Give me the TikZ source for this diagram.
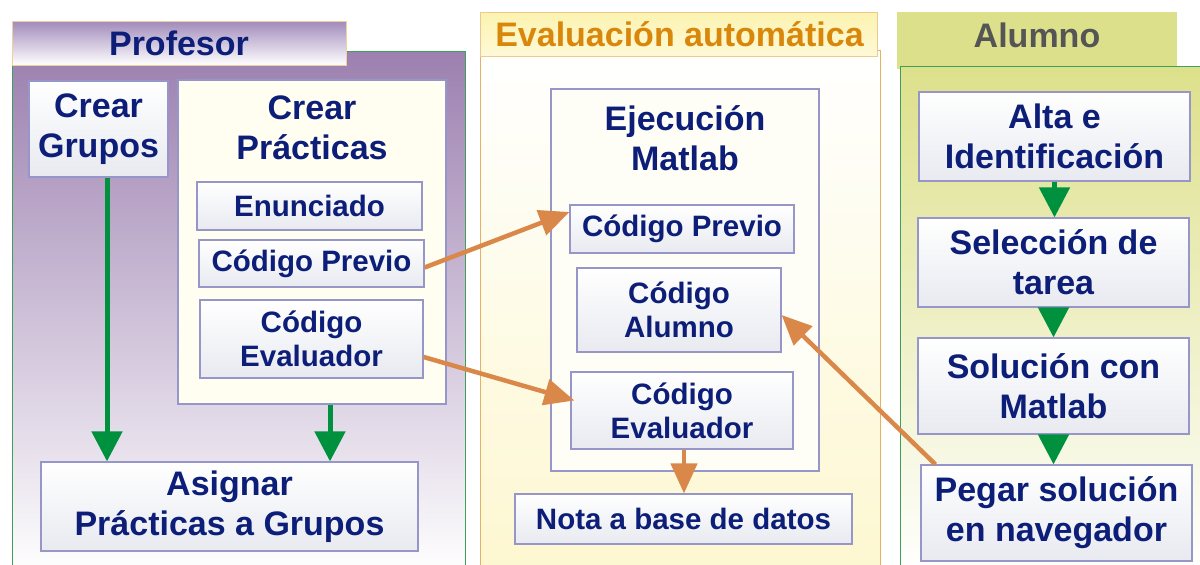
\documentclass[tikz,border=0pt]{standalone}
\usepackage{fontspec}
\setmainfont{Liberation Sans}
\usetikzlibrary{arrows.meta}
\definecolor{txt}{RGB}{12,30,120}
\definecolor{boxb}{RGB}{150,150,200}
\definecolor{boxg}{RGB}{232,234,240}
\definecolor{gr}{RGB}{0,145,63}
\definecolor{orng}{RGB}{217,136,74}
\definecolor{prof}{RGB}{156,128,176}
\definecolor{proft}{RGB}{160,138,186}
\definecolor{pborder}{RGB}{60,160,90}
\definecolor{evb}{RGB}{232,176,96}
\definecolor{evt}{RGB}{252,243,176}
\definecolor{evbot}{RGB}{253,247,208}
\definecolor{evtxt}{RGB}{217,135,10}
\definecolor{alu}{RGB}{221,224,138}
\definecolor{alutxt}{RGB}{85,85,85}
\definecolor{cream}{RGB}{255,254,240}
\tikzset{
  box/.style={draw=boxb, line width=1.2pt, top color=white, bottom color=boxg, inner sep=0pt, align=center, text=txt},
  cont/.style={draw=boxb, line width=1.2pt, fill=cream, inner sep=0pt},
  lbl/.style={align=center, text=txt, inner sep=0pt},
  big/.style={font=\bfseries\fontsize{34}{40}\selectfont},
  small/.style={font=\bfseries\fontsize{29.5}{34}\selectfont},
  ttl/.style={font=\bfseries\fontsize{34}{40}\selectfont, inner sep=0pt},
  garrow/.style={draw=gr, line width=5pt, -{Triangle[width=30pt,length=30pt]}},
  oarrow/.style={draw=orng, line width=4.5pt, -{Triangle[width=26pt,length=30pt]}}
}
\begin{document}
\begin{tikzpicture}[x=1pt,y=-1pt]
\useasboundingbox (0,0) rectangle (1200,565);
\fill[white] (0,0) rectangle (1200,565);
% ---------- Profesor panel
\path[top color=prof, bottom color=white, draw=pborder, line width=1pt] (12,51) rectangle (465,575);
\node[draw=evb!60, line width=1pt, top color=proft, bottom color=white, minimum width=334, minimum height=44, inner sep=0pt] (ptitle) at (179,43) {};
\node[ttl, text=txt] (ptext) at (179,43) {Profesor};
% ---------- Evaluacion panel
\path[top color=white, bottom color=evbot, draw=evb, line width=1pt] (480,50) rectangle (880,575);
\node[draw=evb!70, line width=1pt, top color=evt, bottom color=evt!50, minimum width=397, minimum height=44, inner sep=0pt] (etitle) at (678.5,34) {};
\node[ttl, text=evtxt] (etext) at (679.5,34) {Evaluación automática};
% ---------- Alumno panel
\node[fill=alu, minimum width=280, minimum height=57, inner sep=0pt] (atitle) at (1037,40.5) {};
\path[top color=alu, bottom color=white, draw=pborder, line width=1pt] (900,66) rectangle (1210,575);
\node[ttl, text=alutxt] (atext) at (1037,35) {Alumno};
% ---------- Profesor nodes
\node[box, big, minimum width=139, minimum height=96] (cg) at (98.5,129) {Crear\\Grupos};
\node[cont, minimum width=268, minimum height=324] (cp) at (312,242) {};
\node[lbl, big] (cpl) at (312,128) {Crear\\Prácticas};
\node[box, small, minimum width=225, minimum height=48] (en) at (309.5,206) {Enunciado};
\node[box, small, minimum width=225, minimum height=47] (cpp) at (311.5,263.5) {Código Previo};
\node[box, small, minimum width=223, minimum height=78] (cep) at (311.5,339) {Código\\Evaluador};
\node[box, big, minimum width=377, minimum height=89] (asg) at (229.5,506.5) {Asignar\\Prácticas a Grupos};
% ---------- Evaluacion nodes
\node[cont, fill=cream!60, minimum width=268, minimum height=382] (ej) at (685,280) {};
\node[lbl, big] (ejl) at (685,138) {Ejecución\\Matlab};
\node[box, small, minimum width=224, minimum height=48] (cpe) at (682,229) {Código Previo};
\node[box, small, minimum width=204, minimum height=84] (ca) at (679,310) {Código\\Alumno};
\node[box, small, minimum width=222, minimum height=77] (cee) at (682,410.5) {Código\\Evaluador};
\node[box, small, minimum width=337, minimum height=50] (nota) at (683.5,519) {Nota a base de datos};
% ---------- Alumno nodes
\node[box, big, minimum width=271, minimum height=89] (alta) at (1054.5,136.5) {Alta e\\Identificación};
\node[box, big, minimum width=271, minimum height=89] (sel) at (1053.5,262.5) {Selección de\\tarea};
\node[box, big, minimum width=271, minimum height=96] (sol) at (1053.5,386) {Solución con\\Matlab};
\node[box, big, minimum width=271, minimum height=96] (peg) at (1056.5,513) {Pegar solución\\en navegador};
% ---------- Arrows
\draw[garrow] ([xshift=8.5pt]cg.south) -- ([xshift=8.5pt]cg.south |- asg.north);
\draw[garrow] ([xshift=18pt]cp.south) -- ([xshift=18pt]cp.south |- asg.north);
\draw[garrow] (alta.south) -- (alta.south |- sel.north);
\draw[garrow] (sel.south) -- (sel.south |- sol.north);
\draw[garrow] (sol.south) -- (sol.south |- peg.north);
\draw[oarrow] ([yshift=-4pt]cpp.east) -- ([yshift=17pt]cpe.west);
\draw[oarrow] ([yshift=-18pt]cep.east) -- ([xshift=4pt,yshift=10pt]cee.west);
\draw[oarrow] ([xshift=15pt]peg.north west) -- ([yshift=-5pt]ca.east);
\draw[oarrow] ([xshift=2pt]cee.south) -- ([xshift=2pt]cee.south |- nota.north);
\end{tikzpicture}
\end{document}
